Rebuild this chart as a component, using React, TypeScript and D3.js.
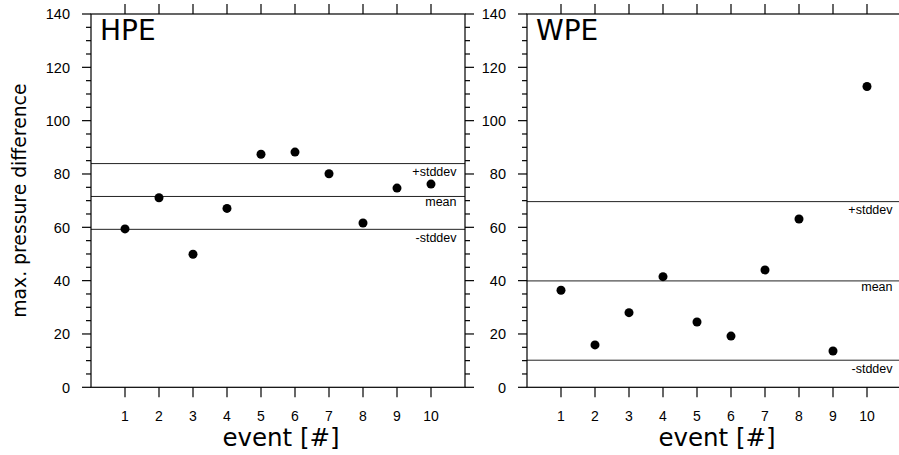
import React from "react";
import * as d3 from "d3";

const events = [1, 2, 3, 4, 5, 6, 7, 8, 9, 10];
const hpeValues = [59.4, 71.1, 49.9, 67.1, 87.4, 88.2, 80.1, 61.6, 74.7, 76.2];
const wpeValues = [36.4, 15.9, 28.0, 41.5, 24.5, 19.2, 44.0, 63.1, 13.6, 112.8];
const panelTitles = ["HPE", "WPE"];
const yMajorTicks = [0, 20, 40, 60, 80, 100, 120, 140];
const yMinorTicks = d3.range(0, 141, 5).filter((v) => v % 20 !== 0);
const statLabels = ["+stddev", "mean", "-stddev"];
const xLabel = "event [#]";
const yLabel = "max. pressure difference";

const W = 899;
const H = 455;
const TOP = 14;
const BOTTOM = 387.3;
const tickFont = "'Liberation Sans', Arial, Helvetica, sans-serif";
const titleFont = "'DejaVu Sans', sans-serif";

type PanelProps = { left: number; right: number; values: number[]; title: string };

function Panel({ left, right, values, title }: PanelProps) {
  const x = d3.scaleLinear().domain([0, 11]).range([left, right]);
  const y = d3.scaleLinear().domain([0, 140]).range([BOTTOM, TOP]);
  const mean = d3.mean(values) as number;
  const sd = d3.deviation(values) as number;
  const stats = [mean + sd, mean, mean - sd];
  const sw = 1.2;
  return (
    <g>
      {/* stat lines */}
      {stats.map((s, i) => (
        <g key={"s" + i}>
          <line x1={left} x2={right} y1={y(s)} y2={y(s)} stroke="#222" strokeWidth={1} />
          <text
            x={right - 8.5}
            y={y(s) + (statLabels[i] === "mean" ? 9.7 : 12.6)}
            textAnchor="end"
            fontFamily={tickFont}
            fontSize={12.5}
            fill="#000"
          >
            {statLabels[i]}
          </text>
        </g>
      ))}
      {/* frame */}
      <rect x={left} y={TOP} width={right - left} height={BOTTOM - TOP} fill="none" stroke="#000" strokeWidth={sw} />
      {/* x ticks top & bottom */}
      {events.map((e) => (
        <g key={"xt" + e}>
          <line x1={x(e)} x2={x(e)} y1={BOTTOM} y2={BOTTOM + 10} stroke="#000" strokeWidth={sw} />
          <line x1={x(e)} x2={x(e)} y1={TOP} y2={TOP - 10} stroke="#000" strokeWidth={sw} />
          <text x={x(e)} y={421} textAnchor="middle" fontFamily={tickFont} fontSize={14} fill="#000">
            {e}
          </text>
        </g>
      ))}
      {/* y ticks */}
      {yMajorTicks.map((t) => (
        <g key={"yt" + t}>
          <line x1={left - 9} x2={left} y1={y(t)} y2={y(t)} stroke="#000" strokeWidth={sw} />
          <line x1={right} x2={right + 9} y1={y(t)} y2={y(t)} stroke="#000" strokeWidth={sw} />
          <text
            x={left - 21}
            y={y(t)}
            dy="0.36em"
            textAnchor="end"
            fontFamily={tickFont}
            fontSize={14.5}
            fill="#000"
          >
            {t}
          </text>
        </g>
      ))}
      {yMinorTicks.map((t) => (
        <g key={"ym" + t}>
          <line x1={left - 5} x2={left} y1={y(t)} y2={y(t)} stroke="#000" strokeWidth={sw} />
          <line x1={right} x2={right + 5} y1={y(t)} y2={y(t)} stroke="#000" strokeWidth={sw} />
        </g>
      ))}
      {/* points */}
      {values.map((v, i) => (
        <circle key={"p" + i} cx={x(events[i])} cy={y(v)} r={4.5} fill="#000" />
      ))}
      <text x={left + 9} y={40} fontFamily={titleFont} fontSize={28} fill="#000">
        {title}
      </text>
      <text
        x={(left + right) / 2 + 3}
        y={446}
        textAnchor="middle"
        fontFamily={titleFont}
        fontSize={24.5}
        fill="#000"
      >
        {xLabel}
      </text>
    </g>
  );
}

export default function App() {
  return (
    <svg
      width={W}
      height={H}
      viewBox={`0 0 ${W} ${H}`}
      style={{ position: "absolute", left: 0, top: 0, background: "#fff" }}
    >
      <rect x={0} y={0} width={W} height={H} fill="#fff" />
      <Panel left={91} right={465} values={hpeValues} title={panelTitles[0]} />
      <Panel left={527} right={901} values={wpeValues} title={panelTitles[1]} />
      <text
        transform={`translate(26, ${(TOP + BOTTOM) / 2}) rotate(-90)`}
        textAnchor="middle"
        fontFamily={titleFont}
        fontSize={18.8}
        fill="#000"
      >
        {yLabel}
      </text>
    </svg>
  );
}
